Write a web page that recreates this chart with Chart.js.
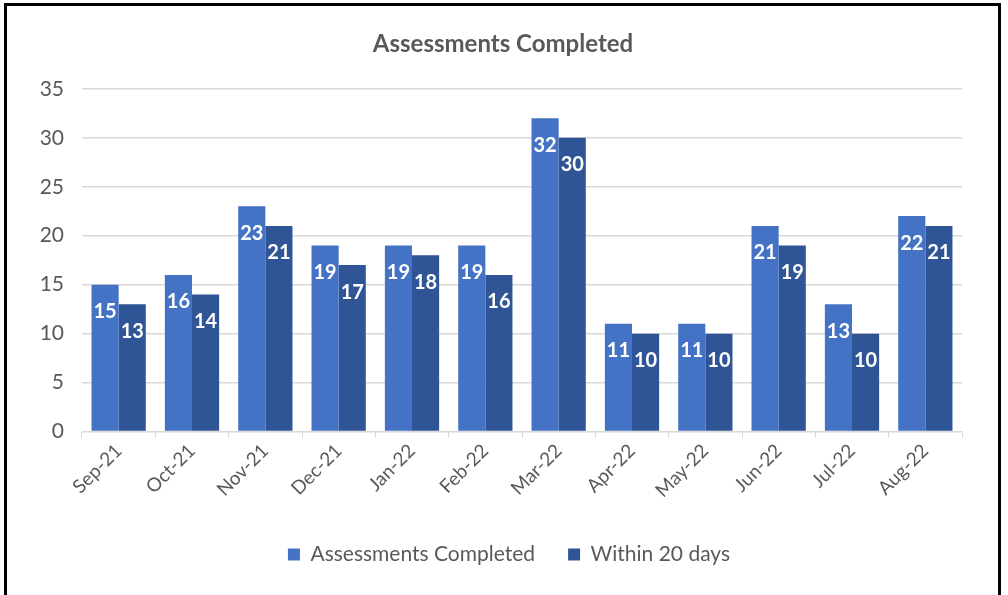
<!DOCTYPE html>
<html>
<head>
<meta charset="utf-8">
<script src="https://cdn.jsdelivr.net/npm/chart.js@4/dist/chart.umd.min.js"></script>
<style>
  body { margin: 0; background: #fff; overflow: hidden; }
  #frame { position: absolute; left: 4px; top: 3px; width: 997px; height: 600px; border: 3px solid #000; box-sizing: border-box; }
  #wrap { position: absolute; left: 0; top: 0; width: 1008px; height: 595px; }
</style>
</head>
<body>
<div id="frame"></div>
<div id="wrap"><canvas id="assessChart"></canvas></div>
<script>
const months = ["Sep-21", "Oct-21", "Nov-21", "Dec-21", "Jan-22", "Feb-22", "Mar-22", "Apr-22", "May-22", "Jun-22", "Jul-22", "Aug-22"];
const completed = [15, 16, 23, 19, 19, 19, 32, 11, 11, 21, 13, 22];
const within20 = [13, 14, 21, 17, 18, 16, 30, 10, 10, 19, 10, 21];
const yTicks = [0, 5, 10, 15, 20, 25, 30, 35];

const fontFamily = "Lato, 'Open Sans', sans-serif";
const grey = "#595959";

// white value labels drawn just inside the top of each bar
const barLabels = {
    id: "barLabels",
    afterDatasetsDraw(chart) {
        const ctx = chart.ctx;
        ctx.save();
        ctx.fillStyle = "#fff";
        ctx.font = "bold 20px " + fontFamily;
        ctx.textAlign = "center";
        ctx.textBaseline = "middle";
        chart.data.datasets.forEach((ds, i) => {
            chart.getDatasetMeta(i).data.forEach((bar, j) => {
                ctx.fillText(ds.data[j], bar.x, bar.y + 27);
            });
        });
        ctx.restore();
    }
};

// title and legend are centred on the whole frame, not the plot
const recentre = {
    id: "recentre",
    afterLayout(chart) {
        chart.titleBlock.left += 17;
        chart.titleBlock.right += 17;
        chart.legend.left += 23;
        chart.legend.right += 23;
    }
};

document.addEventListener("DOMContentLoaded", function () {
    const ctx = document.getElementById("assessChart").getContext("2d");

    new Chart(ctx, {
        type: "bar",
        data: {
            labels: months,
            datasets: [
                {
                    label: "Assessments Completed",
                    data: completed,
                    backgroundColor: "#4472C4",
                },
                {
                    label: "Within 20 days",
                    data: within20,
                    backgroundColor: "#2F5597",
                },
            ],
        },
        options: {
            responsive: true,
            maintainAspectRatio: false,
            animation: false,
            datasets: {
                bar: { barPercentage: 1, categoryPercentage: 0.74 }
            },
            layout: { padding: { left: 10, right: 46, top: 22, bottom: 20 } },
            plugins: {
                title: {
                    display: true,
                    text: "Assessments Completed",
                    color: grey,
                    font: { family: fontFamily, size: 24, weight: "bold" },
                    padding: { top: 8, bottom: 30 },
                },
                legend: {
                    position: "bottom",
                    labels: {
                        color: grey,
                        font: { family: fontFamily, size: 21 },
                        boxWidth: 12,
                        boxHeight: 12,
                        padding: 33,
                    },
                },
                tooltip: { enabled: false },
            },
            scales: {
                x: {
                    afterFit(axis) { axis.height += 7; },
                    grid: {
                        offset: true,
                        drawOnChartArea: false,
                        drawTicks: true,
                        tickLength: 6,
                        color: "#d9d9d9",
                    },
                    border: { color: "#d9d9d9", width: 1 },
                    ticks: {
                        color: grey,
                        font: { family: fontFamily, size: 19 },
                        minRotation: 45,
                        maxRotation: 45,
                        padding: 2,
                    },
                },
                y: {
                    min: 0,
                    max: 35,
                    afterBuildTicks(axis) {
                        axis.ticks = yTicks.map(v => ({ value: v }));
                    },
                    afterFit(axis) { axis.width = 72; },
                    grid: { color: "#d9d9d9", drawTicks: false, lineWidth: 1.5 },
                    border: { display: false },
                    ticks: {
                        color: grey,
                        font: { family: fontFamily, size: 21 },
                        padding: 18,
                    },
                },
            },
        },
        plugins: [barLabels, recentre],
    });
});
</script>
</body>
</html>
